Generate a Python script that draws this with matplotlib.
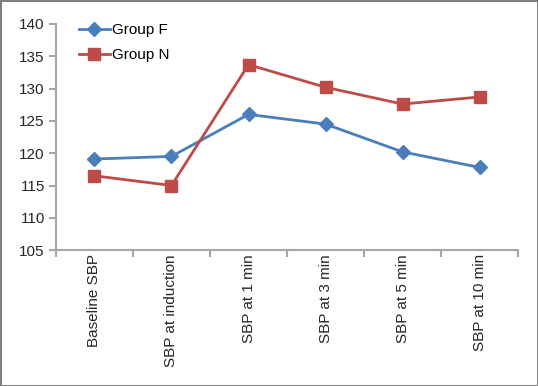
import matplotlib
matplotlib.use("Agg")
import matplotlib.pyplot as plt
import numpy as np

plt.rcParams['font.family'] = ['Liberation Sans', 'DejaVu Sans']

# Data
categories = ["Baseline SBP", "SBP at induction", "SBP at 1 min",
              "SBP at 3 min", "SBP at 5 min", "SBP at 10 min"]
group_f = [119.1, 119.5, 126.0, 124.5, 120.2, 117.8]
group_n = [116.5, 115.0, 133.7, 130.2, 127.6, 128.7]

blue = "#4A7EBB"
red = "#BE4B48"
axis_grey = "#A6A6A6"

fig = plt.figure(figsize=(5.38, 3.86), dpi=100)
fig.patch.set_edgecolor("#7F7F7F")
fig.patch.set_linewidth(2)

ax = fig.add_axes([0.104, 0.352, 0.859, 0.586])
x = np.arange(len(categories))
ax.plot(x, group_f, color=blue, lw=2, marker="D", ms=7, label="Group F")
ax.plot(x, group_n, color=red, lw=2, marker="s", ms=9, label="Group N")

ax.set_xlim(-0.5, len(categories) - 0.5)
ax.set_ylim(105, 140)
ax.set_yticks(range(105, 141, 5))
ax.set_xticks(x)
ax.set_xticklabels(categories, rotation=90, fontsize=11, color="#262626")
ax.set_xticks(np.arange(-0.5, len(categories), 1), minor=True)
ax.tick_params(axis="x", which="major", length=0, pad=3)
ax.tick_params(axis="x", which="minor", length=5, color=axis_grey, width=1.5)
ax.tick_params(axis="y", length=5, color=axis_grey, width=1.5, labelsize=11,
               labelcolor="#262626", pad=3)

for side in ["top", "right"]:
    ax.spines[side].set_visible(False)
for side in ["left", "bottom"]:
    ax.spines[side].set_color(axis_grey)
    ax.spines[side].set_linewidth(1.5)

ax.legend(loc="upper left", bbox_to_anchor=(0.02, 1.065), frameon=False,
          fontsize=11, handlelength=2.0, handletextpad=0.15, labelspacing=0.75)

fig.savefig("out.png", dpi=100, edgecolor=fig.get_edgecolor())
